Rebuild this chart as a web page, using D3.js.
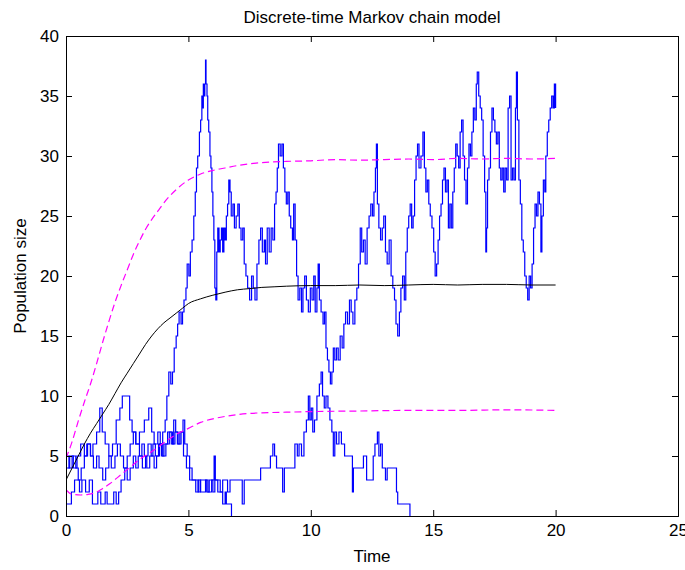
<!DOCTYPE html>
<html><head><meta charset="utf-8">
<script src="https://cdn.jsdelivr.net/npm/d3@7"></script>
<style>
body{margin:0;background:#fff}
svg{display:block}
text{font-family:"Liberation Sans",Arial,Helvetica,sans-serif}
</style>
</head><body>
<svg id="chart" width="685" height="570"></svg>
<script>
// ---------------- data ----------------
const chartTitle = "Discrete-time Markov chain model";
const xLabel = "Time";
const yLabel = "Population size";
const xTicks = [0, 5, 10, 15, 20, 25];
const yTicks = [0, 5, 10, 15, 20, 25, 30, 35, 40];

// sample path 1 (reaches 38, survives to t = 20) : [time, population]
const pathA = [[0,4],[0.15,5],[0.3,4],[0.45,5],[0.6,6],[0.75,5],[0.85,6],[1,5],[1.1,6],[1.25,7],[1.38,9],[1.48,7],[1.6,6],[1.75,5],[1.9,6],[2.05,8],[2.2,9],[2.3,10],[2.6,8],[2.7,7],[2.85,6],[3,7],[3.2,8],[3.38,9],[3.5,7],[3.6,6],[3.75,7],[3.85,6],[3.95,7],[4.05,8],[4.12,10],[4.2,12],[4.28,11],[4.35,12],[4.42,14],[4.5,15],[4.56,16],[4.62,17],[4.7,16],[4.76,17],[4.82,18],[4.9,19],[4.95,21],[5.02,20],[5.08,22],[5.15,23],[5.22,25],[5.28,27],[5.33,29],[5.38,30],[5.45,32],[5.5,33],[5.55,35],[5.58,34],[5.61,36],[5.64,35],[5.67,36],[5.7,38],[5.72,36],[5.76,35],[5.79,33],[5.83,32],[5.88,30],[5.92,29],[5.96,27],[6,25],[6.04,23],[6.08,19],[6.12,18],[6.16,22],[6.2,24],[6.25,22],[6.3,23],[6.35,24],[6.4,22],[6.45,24],[6.5,23],[6.55,25],[6.6,26],[6.65,28],[6.7,27],[6.75,25],[6.82,26],[6.88,24],[6.95,25],[7.02,26],[7.08,24],[7.15,23],[7.22,24],[7.28,21],[7.35,20],[7.42,19],[7.5,18],[7.58,20],[7.65,19],[7.72,18],[7.8,21],[7.88,23],[7.95,24],[8.02,22],[8.1,23],[8.15,21],[8.22,24],[8.3,22],[8.38,24],[8.45,23],[8.52,26],[8.58,27],[8.63,29],[8.68,31],[8.75,30],[8.82,31],[8.88,29],[8.94,27],[9,26],[9.06,27],[9.12,25],[9.18,24],[9.25,23],[9.3,26],[9.36,23],[9.42,20],[9.48,18],[9.55,19],[9.62,17],[9.68,19],[9.75,20],[9.82,18],[9.9,17],[9.98,19],[10.05,18],[10.12,20],[10.18,17],[10.25,19],[10.3,21],[10.35,18],[10.42,17],[10.5,16],[10.56,17],[10.62,14],[10.68,13],[10.74,12],[10.8,11],[10.86,12],[10.92,14],[10.98,13],[11.05,14],[11.12,13],[11.2,15],[11.28,14],[11.35,16],[11.42,17],[11.5,16],[11.58,18],[11.65,17],[11.72,16],[11.8,18],[11.88,19],[11.95,21],[12.02,24],[12.08,22],[12.15,23],[12.22,21],[12.3,24],[12.38,25],[12.45,26],[12.52,25],[12.58,27],[12.64,29],[12.68,31],[12.72,26],[12.78,24],[12.85,23],[12.92,24],[12.98,25],[13.05,22],[13.12,21],[13.2,23],[13.28,20],[13.35,19],[13.42,18],[13.48,16],[13.55,15],[13.62,17],[13.68,19],[13.75,20],[13.82,18],[13.88,22],[13.94,24],[14,25],[14.06,26],[14.12,24],[14.18,25],[14.24,28],[14.3,30],[14.36,31],[14.42,29],[14.5,30],[14.58,32],[14.64,29],[14.7,27],[14.76,28],[14.82,26],[14.88,25],[14.95,24],[15.02,22],[15.08,20],[15.14,21],[15.2,23],[15.26,25],[15.32,26],[15.38,28],[15.44,29],[15.5,27],[15.56,28],[15.62,24],[15.68,26],[15.74,24],[15.8,27],[15.86,29],[15.92,31],[15.98,30],[16.04,29],[16.1,32],[16.16,33],[16.22,30],[16.28,28],[16.34,26],[16.4,29],[16.46,31],[16.52,30],[16.58,32],[16.64,34],[16.7,33],[16.76,36],[16.8,37],[16.86,35],[16.92,34],[16.98,33],[17.04,30],[17.1,27],[17.15,22],[17.18,24],[17.22,28],[17.28,29],[17.34,32],[17.4,34],[17.46,33],[17.52,32],[17.58,31],[17.64,32],[17.7,29],[17.76,28],[17.82,29],[17.88,27],[17.94,29],[18,28],[18.06,34],[18.12,35],[18.18,28],[18.24,29],[18.3,28],[18.36,34],[18.4,37],[18.44,33],[18.5,28],[18.56,26],[18.62,23],[18.68,22],[18.74,20],[18.8,19],[18.86,18],[18.92,20],[18.98,19],[19.04,21],[19.1,24],[19.16,26],[19.22,25],[19.28,27],[19.34,26],[19.4,22],[19.44,25],[19.5,28],[19.56,27],[19.6,30],[19.66,32],[19.72,33],[19.78,34],[19.84,35],[19.9,34],[19.95,36],[20,34]];

// sample path 2 (extinct near t = 14)
const pathB = [[0,1],[0.22,2],[0.35,3],[0.55,2],[0.65,3],[0.8,2],[0.95,3],[1.08,1],[1.3,2],[1.42,1],[1.6,2],[1.68,1],[1.95,2],[2.05,1],[2.15,2],[2.25,3],[2.4,4],[2.5,3],[2.62,4],[2.75,5],[2.85,4],[2.95,5],[3.1,6],[3.2,5],[3.3,4],[3.42,5],[3.55,6],[3.65,5],[3.78,6],[3.9,5],[4,6],[4.15,7],[4.3,6],[4.4,8],[4.48,7],[4.58,6],[4.7,7],[4.8,5],[4.92,4],[5.05,3],[5.4,2],[5.48,3],[5.75,2],[5.85,3],[6,2],[6.08,3],[6.3,2],[6.4,3],[6.6,2],[6.7,3],[7.2,1],[7.28,3],[7.95,4],[8.35,5],[8.45,6],[8.52,5],[8.6,4],[8.85,2],[8.92,4],[9.35,6],[9.45,5],[9.52,6],[9.62,5],[9.72,7],[9.82,8],[9.9,10],[9.96,8],[10.02,9],[10.08,7],[10.15,8],[10.25,10],[10.35,11],[10.42,12],[10.48,10],[10.55,9],[10.62,10],[10.7,9],[10.78,8],[10.86,7],[10.92,5],[10.98,7],[11.05,6],[11.15,7],[11.25,6],[11.38,5],[11.7,2],[11.74,4],[12.15,5],[12.28,3],[12.55,5],[12.62,6],[12.72,7],[12.78,5],[12.85,6],[12.92,4],[13.05,3],[13.12,4],[13.5,2],[13.55,1],[14.05,0]];

// sample path 3 (extinct near t = 6.8)
const pathC = [[0,5],[0.12,4],[0.25,5],[0.4,4],[0.5,3],[0.62,4],[0.75,5],[0.88,6],[1,5],[1.12,4],[1.25,5],[1.35,4],[1.5,3],[1.62,4],[1.75,5],[1.85,4],[2,5],[2.1,6],[2.22,5],[2.35,4],[2.5,5],[2.62,6],[2.75,7],[2.85,6],[3,5],[3.12,4],[3.25,5],[3.35,6],[3.48,5],[3.6,4],[3.7,5],[3.82,6],[3.95,5],[4.08,6],[4.22,7],[4.35,6],[4.45,7],[4.55,6],[4.65,7],[4.78,8],[4.85,6],[4.95,5],[5.05,4],[5.15,3],[5.3,2],[5.4,3],[5.5,2],[5.7,3],[5.8,2],[5.95,3],[6.05,5],[6.1,3],[6.2,2],[6.4,1],[6.5,2],[6.55,1],[6.76,0]];

// mean of the chain
const meanCurve = [[0,3],[0.25,4],[0.5,5],[0.75,6],[1,6.9],[1.25,7.7],[1.5,8.5],[1.75,9.3],[2,10.2],[2.25,11.1],[2.5,11.9],[2.75,12.7],[3,13.5],[3.25,14.3],[3.5,15],[3.75,15.6],[4,16.1],[4.25,16.5],[4.5,16.9],[4.75,17.3],[5,17.7],[5.5,18.1],[6,18.4],[6.5,18.65],[7,18.85],[7.5,18.95],[8,19.05],[8.5,19.1],[9,19.15],[10,19.2],[11,19.2],[12,19.25],[13,19.2],[14,19.25],[15,19.3],[16,19.25],[17,19.3],[18,19.3],[19,19.25],[20,19.25]];

// mean + standard deviation
const upperCurve = [[0,4.8],[0.25,6.2],[0.5,7.9],[0.75,9.5],[1,11],[1.25,12.7],[1.5,14.5],[1.75,16.2],[2,17.8],[2.25,19.2],[2.5,20.5],[2.75,21.8],[3,22.9],[3.25,23.9],[3.5,24.7],[3.75,25.4],[4,26.1],[4.5,27.2],[5,28],[5.5,28.5],[6,28.8],[6.5,29],[7,29.2],[7.5,29.35],[8,29.45],[9,29.55],[10,29.6],[11,29.7],[12,29.65],[13,29.7],[14,29.75],[15,29.7],[16,29.8],[17,29.75],[18,29.8],[19,29.75],[20,29.8]];

// mean - standard deviation
const lowerCurve = [[0,2.2],[0.15,1.9],[0.3,1.8],[0.6,1.75],[0.9,1.8],[1.2,1.95],[1.5,2.3],[1.8,2.7],[2.1,3.2],[2.4,3.7],[2.7,4.2],[3,4.7],[3.3,5.1],[3.6,5.5],[4,6.1],[4.5,6.8],[5,7.3],[5.5,7.8],[6,8.1],[6.5,8.3],[7,8.45],[7.5,8.55],[8,8.6],[9,8.65],[10,8.7],[12,8.75],[14,8.8],[16,8.8],[18,8.85],[20,8.8]];

// ---------------- drawing ----------------
const svg = d3.select("#chart");
const W = 685, H = 570;
const m = {left: 66, right: 685 - 678, top: 36, bottom: 570 - 516};
const x = d3.scaleLinear().domain([0, 25]).range([m.left, W - m.right]);
const y = d3.scaleLinear().domain([0, 40]).range([H - m.bottom, m.top]);

svg.append("rect").attr("width", W).attr("height", H).attr("fill", "#fff");

const g = svg.append("g");
const clipId = "plotclip";
svg.append("defs").append("clipPath").attr("id", clipId)
  .append("rect").attr("x", x(0)).attr("y", y(40)).attr("width", x(25) - x(0)).attr("height", y(0) - y(40));

const plot = g.append("g").attr("clip-path", `url(#${clipId})`);

const stepLine = d3.line().x(d => x(d[0])).y(d => y(d[1])).curve(d3.curveStepAfter);
const smoothLine = d3.line().x(d => x(d[0])).y(d => y(d[1])).curve(d3.curveMonotoneX);

[pathA, pathB, pathC].forEach(p => {
  plot.append("path").attr("d", stepLine(p)).attr("fill", "none")
    .attr("stroke", "#0000ff").attr("stroke-width", 1.2);
});

plot.append("path").attr("d", smoothLine(meanCurve)).attr("fill", "none")
  .attr("stroke", "#000").attr("stroke-width", 1);

[upperCurve, lowerCurve].forEach(p => {
  plot.append("path").attr("d", smoothLine(p)).attr("fill", "none")
    .attr("stroke", "#ff00ff").attr("stroke-width", 1.2).attr("stroke-dasharray", "7,4");
});

// axes (MATLAB style: box, inward ticks on all sides)
const fs = 17;
const axB = g.append("g").attr("transform", `translate(0,${y(0)})`)
  .call(d3.axisBottom(x).tickValues(xTicks).tickSize(-6).tickPadding(8).tickFormat(d3.format("d")));
const axL = g.append("g").attr("transform", `translate(${x(0)},0)`)
  .call(d3.axisLeft(y).tickValues(yTicks).tickSize(-6).tickPadding(7).tickFormat(d3.format("d")));
const axT = g.append("g").attr("transform", `translate(0,${y(40)})`)
  .call(d3.axisTop(x).tickValues(xTicks).tickSize(-6).tickFormat(""));
const axR = g.append("g").attr("transform", `translate(${x(25)},0)`)
  .call(d3.axisRight(y).tickValues(yTicks).tickSize(-6).tickFormat(""));
[axB, axL, axT, axR].forEach(a => {
  a.select(".domain").attr("stroke", "#000").attr("stroke-width", 1);
  a.selectAll(".tick line").attr("stroke", "#000");
  a.selectAll("text").attr("font-size", fs).attr("fill", "#000")
    .attr("font-family", '"Liberation Sans", Arial, sans-serif');
});

g.append("text").attr("x", (x(0) + x(25)) / 2).attr("y", 23).attr("text-anchor", "middle")
  .attr("font-size", fs).text(chartTitle);
g.append("text").attr("x", (x(0) + x(25)) / 2).attr("y", 562).attr("text-anchor", "middle")
  .attr("font-size", fs).text(xLabel);
g.append("text").attr("transform", `translate(26,${(y(0) + y(40)) / 2}) rotate(-90)`)
  .attr("text-anchor", "middle").attr("font-size", fs).text(yLabel);
</script>
</body></html>
